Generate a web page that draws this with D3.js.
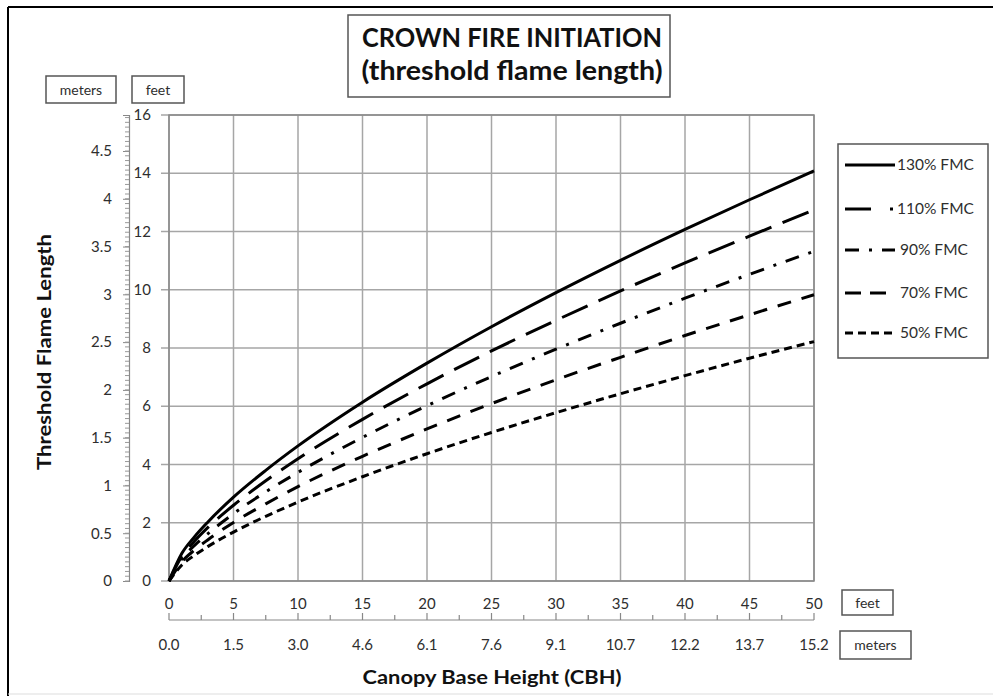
<!DOCTYPE html>
<html><head><meta charset="utf-8">
<script src="https://cdn.jsdelivr.net/npm/d3@7"></script>
<style>
html,body{margin:0;padding:0;background:#fff;}
svg{display:block;font-family:Lato,"Open Sans",sans-serif;}
</style></head>
<body><svg id="c" width="993" height="696"></svg>
<script>
// ---- data ----
const cbhFeet = [0, 1, 2, 3, 5, 7.5, 10, 15, 20, 25, 30, 35, 40, 45, 50];
const fmc130 = [0, 0.95, 1.53, 2.02, 2.88, 3.80, 4.64, 6.14, 7.48, 8.73, 9.90, 11.01, 12.07, 13.09, 14.08];
const fmc110 = [0, 0.86, 1.38, 1.83, 2.60, 3.44, 4.20, 5.55, 6.77, 7.90, 8.95, 9.96, 10.92, 11.84, 12.74];
const fmc90  = [0, 0.76, 1.23, 1.62, 2.31, 3.06, 3.73, 4.93, 6.02, 7.02, 7.96, 8.85, 9.71, 10.53, 11.32];
const fmc70  = [0, 0.66, 1.07, 1.41, 2.01, 2.65, 3.24, 4.28, 5.22, 6.09, 6.91, 7.68, 8.43, 9.14, 9.83];
const fmc50  = [0, 0.55, 0.89, 1.18, 1.68, 2.22, 2.71, 3.58, 4.37, 5.10, 5.78, 6.43, 7.05, 7.65, 8.22];
const seriesNames = ["130% FMC", "110% FMC", "90% FMC", "70% FMC", "50% FMC"];
const xFeetTicks = [0, 5, 10, 15, 20, 25, 30, 35, 40, 45, 50];
const xMeterLabels = ["0.0", "1.5", "3.0", "4.6", "6.1", "7.6", "9.1", "10.7", "12.2", "13.7", "15.2"];
const yFeetTicks = [0, 2, 4, 6, 8, 10, 12, 14, 16];
const yMeterTicks = [0, 0.5, 1, 1.5, 2, 2.5, 3, 3.5, 4, 4.5];

const seriesValues = [fmc130, fmc110, fmc90, fmc70, fmc50];
const dashes = ["none", "28,12", "14,10,3,10", "14,11", "8,5"];
const legendDashes = ["none", "26,19,3,2", "14,10,3,10", "16,9", "8,5"];

const svg = d3.select("#c");
const W = 993, H = 696;
const x = d3.scaleLinear().domain([0, 50]).range([169, 814]);
const y = d3.scaleLinear().domain([0, 16]).range([581, 115]);
const ym = d3.scaleLinear().domain([0, 16 / 3.28084]).range([581, 115]);
const txt = "#2e2e2e";

// outer frame
svg.append("line").attr("x1", 8).attr("x2", W).attr("y1", 7).attr("y2", 7).attr("stroke", "#000").attr("stroke-width", 2);
svg.append("line").attr("x1", 8).attr("x2", 8).attr("y1", 7).attr("y2", H).attr("stroke", "#000").attr("stroke-width", 2);
svg.append("line").attr("x1", 8).attr("x2", W).attr("y1", 694).attr("y2", 694).attr("stroke", "#ddd").attr("stroke-width", 1);

// title box
svg.append("rect").attr("x", 348).attr("y", 15).attr("width", 322).attr("height", 82)
  .attr("fill", "#fff").attr("stroke", "#555").attr("stroke-width", 1.5);
svg.append("text").attr("x", 512).attr("y", 47).attr("text-anchor", "middle")
  .attr("font-size", 27).attr("font-weight", 700).attr("fill", "#111")
  .attr("textLength", 300).attr("lengthAdjust", "spacingAndGlyphs").text("CROWN FIRE INITIATION");
svg.append("text").attr("x", 512).attr("y", 80).attr("text-anchor", "middle")
  .attr("font-size", 27).attr("font-weight", 700).attr("fill", "#111")
  .attr("textLength", 301).attr("lengthAdjust", "spacingAndGlyphs").text("(threshold flame length)");

// unit boxes
function unitBox(x0, y0, w, h, label) {
  svg.append("rect").attr("x", x0).attr("y", y0).attr("width", w).attr("height", h)
    .attr("fill", "#fff").attr("stroke", "#555").attr("stroke-width", 1.5);
  svg.append("text").attr("x", x0 + w / 2).attr("y", y0 + h / 2 + 5).attr("text-anchor", "middle")
    .attr("font-size", 14).attr("fill", txt).text(label);
}
unitBox(46, 76, 70, 27, "meters");
unitBox(132, 76, 52, 27, "feet");
unitBox(842, 590, 51, 25, "feet");
unitBox(840, 631, 71, 28, "meters");

// grid
const g = svg.append("g");
g.selectAll(".hg").data(yFeetTicks).join("line")
  .attr("x1", 161).attr("x2", 814).attr("y1", d => y(d)).attr("y2", d => y(d))
  .attr("stroke", "#a6a6a6").attr("stroke-width", 1.5);
g.selectAll(".vg").data(xFeetTicks).join("line")
  .attr("x1", d => x(d)).attr("x2", d => x(d)).attr("y1", 115).attr("y2", 581)
  .attr("stroke", "#a6a6a6").attr("stroke-width", 1.5);
g.append("rect").attr("x", 169).attr("y", 115).attr("width", 645).attr("height", 466)
  .attr("fill", "none").attr("stroke", "#888").attr("stroke-width", 1.5);

// feet y labels
svg.selectAll(".yf").data(yFeetTicks).join("text")
  .attr("x", 151).attr("y", d => y(d) + 5).attr("text-anchor", "end")
  .attr("font-size", 15).attr("fill", txt).text(d => d);

// meters y axis
const mAxis = d3.axisLeft(ym).tickValues(yMeterTicks).tickSize(6).tickFormat(d3.format("~g"));
const mg = svg.append("g").attr("transform", "translate(129,0)").call(mAxis);
mg.select(".domain").attr("stroke", "#888").attr("stroke-width", 1.2);
mg.selectAll(".tick line").attr("stroke", "#888");
mg.selectAll(".tick text").attr("font-size", 15).attr("fill", txt).attr("x", -17).attr("font-family", "Lato");
const minorM = d3.range(0, 4.88, 0.05);
mg.selectAll(".mn").data(minorM).join("line")
  .attr("x1", -4).attr("x2", 0).attr("y1", d => ym(d)).attr("y2", d => ym(d))
  .attr("stroke", "#999").attr("stroke-width", 1);

// bottom feet labels
svg.selectAll(".xf").data(xFeetTicks).join("text")
  .attr("x", d => x(d)).attr("y", 609).attr("text-anchor", "middle")
  .attr("font-size", 15).attr("fill", txt).text(d => d);

// bottom meters axis (second line)
svg.append("line").attr("x1", x(0)).attr("x2", x(50)).attr("y1", 620).attr("y2", 620)
  .attr("stroke", "#888").attr("stroke-width", 1.2);
svg.selectAll(".bt").data(d3.range(0, 50.1, 2.5)).join("line")
  .attr("x1", d => x(d)).attr("x2", d => x(d)).attr("y1", 620).attr("y2", d => d % 5 === 0 ? 613 : 615)
  .attr("stroke", "#888").attr("stroke-width", 1.2);
svg.selectAll(".xm").data(xMeterLabels).join("text")
  .attr("x", (d, i) => x(xFeetTicks[i])).attr("y", 650).attr("text-anchor", "middle")
  .attr("font-size", 15).attr("fill", txt).text(d => d);

// axis titles
svg.append("text").attr("transform", "translate(51,352) rotate(-90)").attr("text-anchor", "middle")
  .attr("font-size", 19).attr("font-weight", 700).attr("fill", "#111")
  .attr("textLength", 236).attr("lengthAdjust", "spacingAndGlyphs").text("Threshold Flame Length");
svg.append("text").attr("x", 492).attr("y", 684).attr("text-anchor", "middle")
  .attr("font-size", 19).attr("font-weight", 700).attr("fill", "#111")
  .attr("textLength", 259).attr("lengthAdjust", "spacingAndGlyphs").text("Canopy Base Height (CBH)");

// curves
const line = d3.line().x(d => x(d[0])).y(d => y(d[1])).curve(d3.curveMonotoneX);
seriesValues.forEach((vals, i) => {
  const pts = cbhFeet.map((c, j) => [c, vals[j]]);
  svg.append("path").datum(pts).attr("d", line)
    .attr("fill", "none").attr("stroke", "#000").attr("stroke-width", 3)
    .attr("stroke-dasharray", dashes[i]).attr("stroke-linecap", "butt");
});

// legend
svg.append("rect").attr("x", 838).attr("y", 144).attr("width", 150).attr("height", 214)
  .attr("fill", "#fff").attr("stroke", "#555").attr("stroke-width", 1.5);
const legY = [165, 209, 250, 293, 333];
seriesNames.forEach((n, i) => {
  svg.append("line").attr("x1", 845).attr("x2", 895).attr("y1", legY[i]).attr("y2", legY[i])
    .attr("stroke", "#000").attr("stroke-width", 3).attr("stroke-dasharray", legendDashes[i]);
  svg.append("text").attr("x", i < 2 ? 897 : 900).attr("y", legY[i] + 5)
    .attr("font-size", 15.5).attr("fill", txt).text(n);
});
</script></body></html>
